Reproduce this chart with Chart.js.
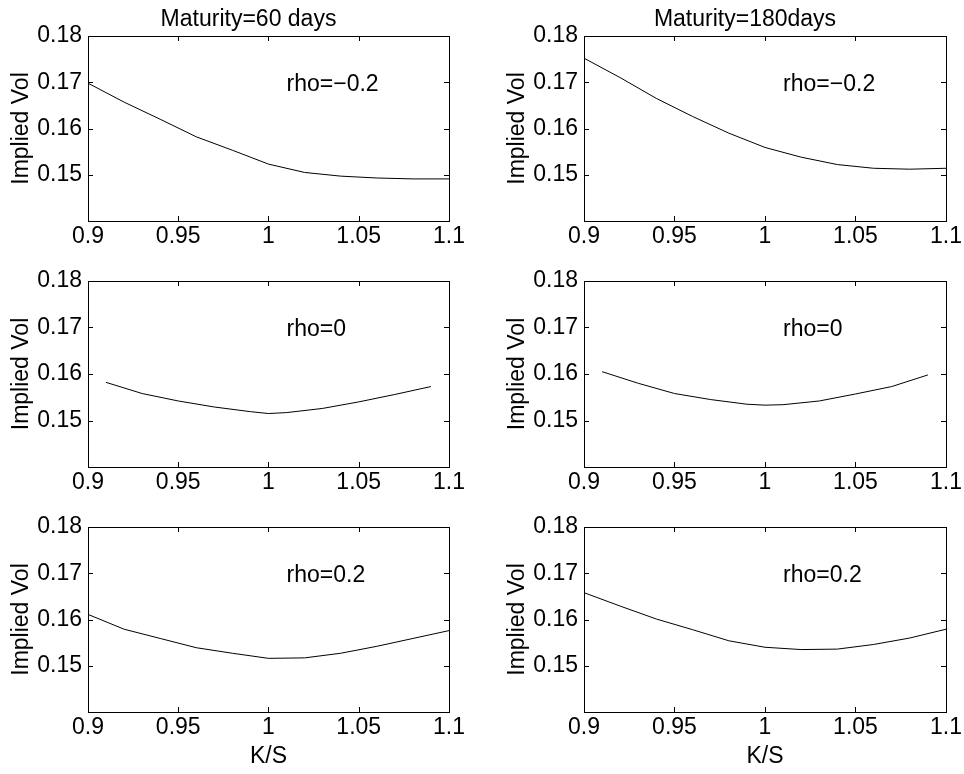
<!DOCTYPE html>
<html>
<head>
<meta charset="utf-8">
<script src="https://cdn.jsdelivr.net/npm/chart.js@4.4.1/dist/chart.umd.min.js"></script>
<style>
  html, body { margin: 0; padding: 0; background: #fff; overflow: hidden; width: 964px; height: 774px; }
  .cell { position: absolute; }
</style>
</head>
<body>
<div class="cell" style="left:0px;top:0px"><canvas id="c60a" width="496" height="251"></canvas></div>
<div class="cell" style="left:496px;top:0px"><canvas id="c180a" width="468" height="251"></canvas></div>
<div class="cell" style="left:0px;top:251px"><canvas id="c60b" width="496" height="246"></canvas></div>
<div class="cell" style="left:496px;top:251px"><canvas id="c180b" width="468" height="246"></canvas></div>
<div class="cell" style="left:0px;top:497px"><canvas id="c60c" width="496" height="277"></canvas></div>
<div class="cell" style="left:496px;top:497px"><canvas id="c180c" width="468" height="277"></canvas></div>
<script>
// strike / spot grids
const ksFull = [0.90, 0.92, 0.94, 0.96, 0.98, 1.00, 1.02, 1.04, 1.06, 1.08, 1.10];
const ksMid = [0.91, 0.93, 0.95, 0.97, 0.99, 1.00, 1.01, 1.03, 1.05, 1.07, 1.09];

// implied vols, maturity 60 days
const vol60Neg = [0.1698, 0.1657, 0.1620, 0.1582, 0.1553, 0.1523, 0.1505, 0.1497, 0.1493, 0.1491, 0.1491];
const vol60Zero = [0.1582, 0.1558, 0.1542, 0.1529, 0.1519, 0.1515, 0.1517, 0.1526, 0.1540, 0.1556, 0.1573];
const vol60Pos = [0.1611, 0.1579, 0.1559, 0.1539, 0.1527, 0.1516, 0.1517, 0.1527, 0.1542, 0.1559, 0.1576];

// implied vols, maturity 180 days
const vol180Neg = [0.1752, 0.1710, 0.1665, 0.1626, 0.1590, 0.1559, 0.1538, 0.1522, 0.1514, 0.1512, 0.1514];
const vol180Zero = [0.1605, 0.1580, 0.1558, 0.1545, 0.1535, 0.1533, 0.1534, 0.1542, 0.1557, 0.1573, 0.1598];
const vol180Pos = [0.1658, 0.1629, 0.1601, 0.1578, 0.1554, 0.1540, 0.1535, 0.1536, 0.1546, 0.1560, 0.1579];

const xTicks = [0.9, 0.95, 1, 1.05, 1.1];
const yTicks = [0.14, 0.15, 0.16, 0.17, 0.18];

const FONT = "'Liberation Sans', Arial, Helvetica, sans-serif";
const FS = 23;
Chart.defaults.font.family = FONT;
Chart.defaults.color = '#000';

// matlab style box with inward ticks, column title and rho text
const boxPlugin = {
  id: 'matlabBox',
  afterDatasetsDraw(chart) {
    const ctx = chart.ctx;
    const a = chart.chartArea;
    const xs = chart.scales.x, ys = chart.scales.y;
    const opts = chart.options.plugins.matlabBox;
    const tl = 5;
    ctx.save();
    ctx.strokeStyle = '#000';
    ctx.lineWidth = 1;
    ctx.strokeRect(Math.round(a.left) + 0.5, Math.round(a.top) + 0.5, Math.round(a.right - a.left), Math.round(a.bottom - a.top));
    ctx.beginPath();
    xTicks.forEach(function(v) {
      const px = Math.round(xs.getPixelForValue(v)) + 0.5;
      ctx.moveTo(px, a.bottom); ctx.lineTo(px, a.bottom - tl);
      ctx.moveTo(px, a.top); ctx.lineTo(px, a.top + tl);
    });
    yTicks.forEach(function(v) {
      const py = Math.round(ys.getPixelForValue(v)) + 0.5;
      ctx.moveTo(a.left, py); ctx.lineTo(a.left + tl, py);
      ctx.moveTo(a.right, py); ctx.lineTo(a.right - tl, py);
    });
    ctx.stroke();
    ctx.fillStyle = '#000';
    ctx.font = FS + 'px ' + FONT;
    if (opts.text) {
      ctx.textAlign = 'left';
      ctx.textBaseline = 'middle';
      ctx.fillText(opts.text, xs.getPixelForValue(1.01), ys.getPixelForValue(0.1695));
    }
    if (opts.title) {
      ctx.textAlign = 'center';
      ctx.textBaseline = 'middle';
      ctx.fillText(opts.title, (a.left + a.right) / 2 - 20, a.top - 16);
    }
    ctx.restore();
  }
};

function makeChart(id, ks, vols, rhoText, title, bottomRow, padRight) {
  const pts = ks.map(function(k, i) { return {x: k, y: vols[i]}; });
  return new Chart(document.getElementById(id), {
    type: 'line',
    data: {
      datasets: [{
        data: pts,
        borderColor: '#000',
        borderWidth: 1,
        pointRadius: 0,
        tension: 0,
        fill: false
      }]
    },
    options: {
      responsive: false,
      animation: false,
      devicePixelRatio: 1,
      layout: { padding: { top: title ? 36 : 30, right: padRight, left: 0, bottom: 0 } },
      plugins: {
        legend: { display: false },
        tooltip: { enabled: false },
        matlabBox: { text: rhoText, title: title }
      },
      scales: {
        x: {
          type: 'linear',
          min: 0.9,
          max: 1.1,
          afterBuildTicks: function(s) { s.ticks = xTicks.map(function(v) { return {value: v}; }); },
          afterFit: function(s) { s.height = bottomRow ? 62 : 30; },
          ticks: {
            font: { size: FS },
            padding: 2,
            maxRotation: 0,
            autoSkip: false,
            callback: function(v) { return String(Math.round(v * 100) / 100); }
          },
          grid: { display: false, drawTicks: false },
          border: { display: false },
          title: {
            display: !!bottomRow,
            text: 'K/S',
            font: { size: FS },
            padding: { top: 0, bottom: 4 }
          }
        },
        y: {
          type: 'linear',
          min: 0.14,
          max: 0.18,
          afterBuildTicks: function(s) { s.ticks = yTicks.map(function(v) { return {value: v}; }); },
          afterFit: function(s) { s.width = 88; },
          ticks: {
            font: { size: FS },
            padding: 6,
            autoSkip: false,
            callback: function(v) {
              const r = Math.round(v * 100) / 100;
              return r === 0.14 ? '' : r.toFixed(2);
            }
          },
          grid: { display: false, drawTicks: false },
          border: { display: false },
          title: {
            display: true,
            text: 'Implied Vol',
            font: { size: FS },
            padding: { top: 8, bottom: 0 }
          }
        }
      }
    },
    plugins: [boxPlugin]
  });
}

makeChart('c60a', ksFull, vol60Neg, 'rho=\u22120.2', 'Maturity=60 days', false, 47);
makeChart('c180a', ksFull, vol180Neg, 'rho=\u22120.2', 'Maturity=180days', false, 18);
makeChart('c60b', ksMid, vol60Zero, 'rho=0', null, false, 47);
makeChart('c180b', ksMid, vol180Zero, 'rho=0', null, false, 18);
makeChart('c60c', ksFull, vol60Pos, 'rho=0.2', null, true, 47);
makeChart('c180c', ksFull, vol180Pos, 'rho=0.2', null, true, 18);
</script>
</body>
</html>
